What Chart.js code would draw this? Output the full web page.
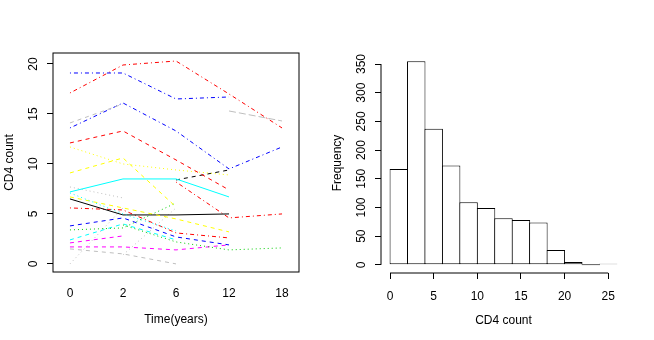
<!DOCTYPE html>
<html>
<head>
<meta charset="utf-8">
<script src="https://cdn.jsdelivr.net/npm/chart.js@4.4.0/dist/chart.umd.min.js"></script>
<style>
  html, body { margin: 0; padding: 0; background: #fff; }
  #wrap { position: relative; width: 654px; height: 340px; }
  canvas { position: absolute; top: 0; }
  #spaghetti { left: 0; }
  #hist { left: 327px; }
</style>
</head>
<body>
<div id="wrap">
  <canvas id="spaghetti" width="327" height="340"></canvas>
  <canvas id="hist" width="327" height="340"></canvas>
</div>
<script>
// ---- left panel: CD4 count per subject at each visit ----
const timeLabels = ['0', '2', '6', '12', '18'];
const cd4Ticks = [0, 5, 10, 15, 20];

// one row per subject, null = no measurement at that visit
const subjects = [
  [19.1, 19.1, 16.5, 16.7, null],
  [17.1, 19.9, 20.3, 17.0, 13.6],
  [14.1, 16.0, null, null, null],
  [null, null, null, 15.3, 14.3],
  [13.6, 16.1, 13.3, 9.5, 11.7],
  [12.1, 13.3, 10.4, 7.4, null],
  [11.7, 10.0, 9.4, 8.9, null],
  [9.1, 10.6, 5.7, null, null],
  [7.2, 8.5, 8.5, 6.7, null],
  [null, null, 8.4, 9.4, null],
  [7.7, 6.6, null, null, null],
  [7.1, 5.0, 3.3, null, null],
  [6.7, 5.6, 4.5, 3.2, null],
  [6.5, 4.9, 4.9, 5.0, null],
  [5.6, 5.4, 3.1, 2.6, null],
  [null, null, 8.2, 4.6, 5.0],
  [3.8, 4.6, 2.7, 1.9, null],
  [3.4, 3.6, 6.1, null, null],
  [null, 3.9, 2.2, 1.4, 1.6],
  [2.4, 4.0, 2.4, null, null],
  [2.1, 2.8, null, null, null],
  [1.7, 1.7, 1.4, 1.9, null],
  [0.0, 5.6, null, null, null],
  [null, 0.9, 5.6, null, null],
  [1.5, 1.0, 0.0, null, null]
];

// ---- right panel: histogram of CD4 count ----
const binStarts = [0, 2, 4, 6, 8, 10, 12, 14, 16, 18, 20, 22, 24];
const binCounts = [167, 355, 237, 173, 109, 99, 81, 78, 74, 26, 5, 0, 1];
const histXTicks = [0, 5, 10, 15, 20, 25];
const freqTicks = [0, 50, 100, 150, 200, 250, 300, 350];

// R palette + lty patterns
const C = { black: '#000000', red: '#FF0000', green: '#00CD00', blue: '#0000FF',
            cyan: '#00FFFF', magenta: '#FF00FF', yellow: '#FFFF00', gray: '#BEBEBE' };
const LTY = { solid: [], dashed: [4, 4], dotted: [1, 3], dotdash: [1, 3, 4, 3],
              longdash: [7, 3], twodash: [2, 2, 6, 2] };

const subjectStyle = [
  ['blue', 'dotdash'], ['red', 'dotdash'], ['gray', 'dashed'], ['gray', 'longdash'],
  ['blue', 'dotdash'], ['red', 'dashed'], ['yellow', 'dotted'], ['yellow', 'dashed'],
  ['cyan', 'solid'], ['black', 'dashed'], ['gray', 'dotted'], ['cyan', 'dotted'],
  ['yellow', 'dashed'], ['black', 'solid'], ['red', 'dotdash'], ['red', 'dotdash'],
  ['blue', 'dashed'], ['green', 'dotted'], ['green', 'dotted'], ['cyan', 'dashed'],
  ['magenta', 'dashed'], ['magenta', 'dashed'], ['gray', 'dotted'], ['gray', 'dotted'],
  ['gray', 'dashed']
];

Chart.defaults.font.family = "'Liberation Sans', Arial, sans-serif";
Chart.defaults.font.size = 12;
Chart.defaults.color = '#000';

// box round the plot region (R's box())
const frameBox = {
  id: 'frameBox',
  afterDraw(chart) {
    const { ctx, chartArea: a } = chart;
    ctx.save();
    ctx.strokeStyle = '#000';
    ctx.lineWidth = 1;
    ctx.strokeRect(a.left, a.top, a.right - a.left, a.bottom - a.top);
    ctx.restore();
  }
};

// axis lines spanning only the tick range, like R's axis()
const axisLines = {
  id: 'axisLines',
  afterDraw(chart) {
    const { ctx, chartArea: a, scales: { x, y } } = chart;
    ctx.save();
    ctx.strokeStyle = '#000';
    ctx.lineWidth = 1;
    ctx.beginPath();
    ctx.moveTo(a.left, y.getPixelForValue(freqTicks[0]));
    ctx.lineTo(a.left, y.getPixelForValue(freqTicks[freqTicks.length - 1]));
    ctx.moveTo(x.getPixelForValue(histXTicks[0]), a.bottom);
    ctx.lineTo(x.getPixelForValue(histXTicks[histXTicks.length - 1]), a.bottom);
    ctx.stroke();
    ctx.restore();
  }
};

const common = {
  responsive: false,
  animation: false,
  events: [],
  layout: { padding: { top: 53, right: 28, left: 0, bottom: 0 } },
  plugins: { legend: { display: false }, tooltip: { enabled: false } }
};

new Chart(document.getElementById('spaghetti'), {
  type: 'line',
  data: {
    datasets: subjects.map((vals, i) => ({
      data: vals.map((v, j) => ({ x: j, y: v })),
      borderColor: C[subjectStyle[i][0]],
      borderDash: LTY[subjectStyle[i][1]],
      borderWidth: 1,
      pointRadius: 0,
      tension: 0,
      fill: false,
      spanGaps: false
    }))
  },
  options: {
    ...common,
    scales: {
      x: {
        type: 'linear', min: -0.32, max: 4.32,
        afterBuildTicks: s => { s.ticks = timeLabels.map((t, i) => ({ value: i })); },
        afterFit: s => { s.height = 68; },
        grid: { display: false, drawTicks: false },
        border: { display: false },
        ticks: { autoSkip: false, maxRotation: 0, padding: 14, callback: v => timeLabels[v] },
        title: { display: true, text: 'Time(years)', padding: { top: 0, bottom: 12.8 } }
      },
      y: {
        type: 'linear', min: -0.81, max: 21.1,
        afterBuildTicks: s => { s.ticks = cd4Ticks.map(v => ({ value: v })); },
        afterFit: s => { s.width = 53; },
        grid: { drawOnChartArea: false, tickLength: 6, color: '#000' },
        border: { display: false },
        ticks: { minRotation: 90, maxRotation: 90, crossAlign: 'center', padding: 7, callback: v => String(v) },
        title: { display: true, text: 'CD4 count', padding: { top: 2.5, bottom: 0 } }
      }
    }
  },
  plugins: [frameBox]
});

const binWidth = binStarts[1] - binStarts[0];

new Chart(document.getElementById('hist'), {
  type: 'bar',
  data: {
    datasets: [{
      data: binStarts.map((b, i) => ({ x: b + binWidth / 2, y: binCounts[i] })),
      backgroundColor: '#ffffff',
      borderColor: '#000',
      borderWidth: 1,
      borderSkipped: false,
      categoryPercentage: 1,
      barPercentage: 1.057,
      minBarLength: 1
    }]
  },
  options: {
    ...common,
    scales: {
      x: {
        type: 'linear', min: -1.04, max: 27.04, offset: false,
        afterBuildTicks: s => { s.ticks = histXTicks.map(v => ({ value: v })); },
        afterFit: s => { s.height = 67; },
        grid: { drawOnChartArea: false, offset: false, tickLength: 6, color: '#000' },
        border: { display: false },
        ticks: { autoSkip: false, maxRotation: 0, padding: 10, callback: v => String(v) },
        title: { display: true, text: 'CD4 count', padding: { top: 0, bottom: 12 } }
      },
      y: {
        type: 'linear', min: -14.2, max: 369.2,
        afterBuildTicks: s => { s.ticks = freqTicks.map(v => ({ value: v })); },
        afterFit: s => { s.width = 54; },
        grid: { drawOnChartArea: false, tickLength: 6, color: '#000' },
        border: { display: false },
        ticks: { minRotation: 90, maxRotation: 90, crossAlign: 'center', padding: 3, callback: v => String(v) },
        title: { display: true, text: 'Frequency', padding: { top: 3, bottom: 0 } }
      }
    }
  },
  plugins: [axisLines]
});
</script>
</body>
</html>
